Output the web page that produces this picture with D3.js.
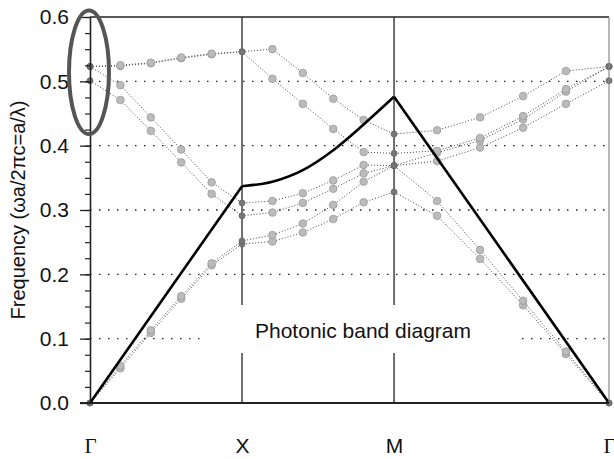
<!DOCTYPE html>
<html>
<head>
<meta charset="utf-8">
<script src="https://cdn.jsdelivr.net/npm/d3@7"></script>
<style>
  body { margin: 0; background: #fff; }
  svg { display: block; font-family: "Liberation Sans", Arial, sans-serif; }
</style>
</head>
<body>
<svg class="chart"></svg>
<script>
// k-path positions of the computed points (Γ-X, X-M, M-Γ)
const kPos = [0, 0.2, 0.4, 0.6, 0.8, 1, 1.2, 1.4, 1.6, 1.8, 2, 2.283, 2.566, 2.849, 3.131, 3.414];

// bands (ωa/2πc)
const band1 = [0, 0.054, 0.109, 0.162, 0.214, 0.247, 0.251, 0.265, 0.286, 0.312, 0.328, 0.291, 0.224, 0.152, 0.076, 0];
const band2 = [0, 0.058, 0.113, 0.166, 0.217, 0.252, 0.261, 0.279, 0.308, 0.344, 0.369, 0.314, 0.238, 0.159, 0.080, 0];
const band3 = [0.501, 0.471, 0.423, 0.374, 0.325, 0.291, 0.296, 0.311, 0.333, 0.357, 0.369, 0.376, 0.397, 0.428, 0.465, 0.501];
const band4 = [0.523, 0.494, 0.444, 0.394, 0.343, 0.311, 0.314, 0.326, 0.346, 0.370, 0.369, 0.389, 0.408, 0.441, 0.484, 0.523];
const band5 = [0.523, 0.524, 0.528, 0.536, 0.542, 0.546, 0.504, 0.465, 0.426, 0.390, 0.388, 0.392, 0.412, 0.446, 0.488, 0.523];
const band6 = [0.523, 0.525, 0.529, 0.537, 0.543, 0.546, 0.550, 0.513, 0.473, 0.440, 0.418, 0.424, 0.444, 0.477, 0.516, 0.523];
const bands = [band1, band2, band3, band4, band5, band6];

// light line
const lightK = [0, 1, 1.2, 1.4, 1.6, 1.8, 2, 3.414];
const lightF = [0, 0.337, 0.344, 0.362, 0.393, 0.433, 0.476, 0];

const yTicks = [0, 0.1, 0.2, 0.3, 0.4, 0.5, 0.6];
const gridTicks = [0.1, 0.2, 0.3, 0.4, 0.5];
const symK = [0, 1, 2, 3.414];
const symLabels = ['Γ', 'X', 'M', 'Γ'];

const width = 614, height = 459;
const svg = d3.select('.chart').attr('width', width).attr('height', height);

const x = d3.scaleLinear().domain([0, 3.414]).range([90, 609]);
const y = d3.scaleLinear().domain([0, 0.6]).range([403, 17]);

// dotted grid
svg.append('g').selectAll('line').data(gridTicks).join('line')
    .attr('x1', x(0)).attr('x2', x(3.414))
    .attr('y1', d => y(d)).attr('y2', d => y(d))
    .attr('stroke', '#222').attr('stroke-width', 1.3)
    .attr('stroke-dasharray', '1.5,7.5');

// symmetry point verticals
svg.append('g').selectAll('line').data(symK.slice(1, 3)).join('line')
    .attr('x1', d => x(d)).attr('x2', d => x(d))
    .attr('y1', y(0.6)).attr('y2', y(0))
    .attr('stroke', '#333').attr('stroke-width', 1.4);

// label with white box
const lx = 363;
svg.append('rect').attr('x', lx - 158).attr('y', 305).attr('width', 316).attr('height', 48).attr('fill', '#fff');
svg.append('text').attr('x', lx).attr('y', 337.5).attr('text-anchor', 'middle')
    .style('font-size', '21px').attr('fill', '#111').text('Photonic band diagram');

// bands
const line = d3.line().x((d, i) => x(kPos[i])).y(d => y(d));
svg.append('g').selectAll('path').data(bands).join('path')
    .attr('d', line).attr('fill', 'none')
    .attr('stroke', '#444').attr('stroke-width', 1)
    .attr('stroke-dasharray', '1,2');

// markers
const ends = [0, 5, 10, 15];
bands.forEach(b => {
  svg.append('g').selectAll('circle').data(b).join('circle')
    .attr('cx', (d, i) => x(kPos[i])).attr('cy', d => y(d))
    .attr('r', (d, i) => ends.includes(i) ? 3 : 3.8)
    .attr('fill', (d, i) => ends.includes(i) ? '#777' : '#bbb')
    .attr('stroke', (d, i) => ends.includes(i) ? '#666' : '#999')
    .attr('stroke-width', 0.8);
});

// light line
const lightPts = lightK.map((k, i) => [k, lightF[i]]);
const lineLin = d3.line().x(d => x(d[0])).y(d => y(d[1]));
const lineCurve = d3.line().x(d => x(d[0])).y(d => y(d[1])).curve(d3.curveMonotoneX);
svg.append('path').attr('d', lineLin(lightPts.slice(0, 2))).attr('fill', 'none').attr('stroke', '#000').attr('stroke-width', 2.6);
svg.append('path').attr('d', lineCurve(lightPts.slice(1, 7))).attr('fill', 'none').attr('stroke', '#000').attr('stroke-width', 2.6);
svg.append('path').attr('d', lineLin(lightPts.slice(6))).attr('fill', 'none').attr('stroke', '#000').attr('stroke-width', 2.6);

// frame
svg.append('line').attr('x1', x(0)).attr('x2', x(3.414)).attr('y1', y(0.6)).attr('y2', y(0.6))
    .attr('stroke', '#222').attr('stroke-width', 1.5);
svg.append('line').attr('x1', x(3.414)).attr('x2', x(3.414)).attr('y1', y(0.6)).attr('y2', y(0))
    .attr('stroke', '#888').attr('stroke-width', 1.2);
svg.append('line').attr('x1', 80).attr('x2', x(3.414)).attr('y1', y(0)).attr('y2', y(0))
    .attr('stroke', '#222').attr('stroke-width', 1.8);

// y axis
const minor = svg.append('g').attr('transform', `translate(${x(0)},0)`)
    .call(d3.axisLeft(y).tickValues(d3.range(0, 0.601, 0.025)).tickSize(5).tickFormat(''));
minor.select('.domain').remove();
minor.selectAll('line').attr('stroke', '#222').attr('stroke-width', 1.2);

const yAxis = svg.append('g').attr('transform', `translate(${x(0)},0)`)
    .call(d3.axisLeft(y).tickValues(yTicks).tickFormat(d3.format('.1f')).tickSize(10).tickSizeOuter(0).tickPadding(11));
yAxis.select('.domain').attr('stroke', '#222').attr('stroke-width', 1.6);
yAxis.selectAll('line').attr('stroke', '#222').attr('stroke-width', 1.3);
yAxis.selectAll('text').style('font-size', '21px').style('font-family', '"Liberation Sans", Arial, sans-serif').attr('fill', '#111');

// symmetry labels
const xAxis = svg.append('g').attr('transform', `translate(0,${y(0)})`)
    .call(d3.axisBottom(x).tickValues(symK).tickFormat((d, i) => symLabels[i]).tickSize(0).tickPadding(35));
xAxis.select('.domain').remove();
xAxis.selectAll('text').style('font-size', '21px')
    .style('font-family', (d, i) => symLabels[i] === 'Γ' ? '"Liberation Serif", "Times New Roman", serif' : '"Liberation Sans", Arial, sans-serif')
    .attr('fill', '#111');

// y title
svg.append('text').attr('transform', 'translate(25,210) rotate(-90)')
    .attr('text-anchor', 'middle').style('font-size', '20px').attr('fill', '#111')
    .text('Frequency (ωa/2πc=a/λ)');

// highlight ellipse at Γ
svg.append('ellipse').attr('cx', x(0) - 1).attr('cy', y(0.514))
    .attr('rx', 20).attr('ry', (y(0.418) - y(0.61)) / 2)
    .attr('fill', 'none').attr('stroke', '#555').attr('stroke-width', 4);
</script>
</body>
</html>
